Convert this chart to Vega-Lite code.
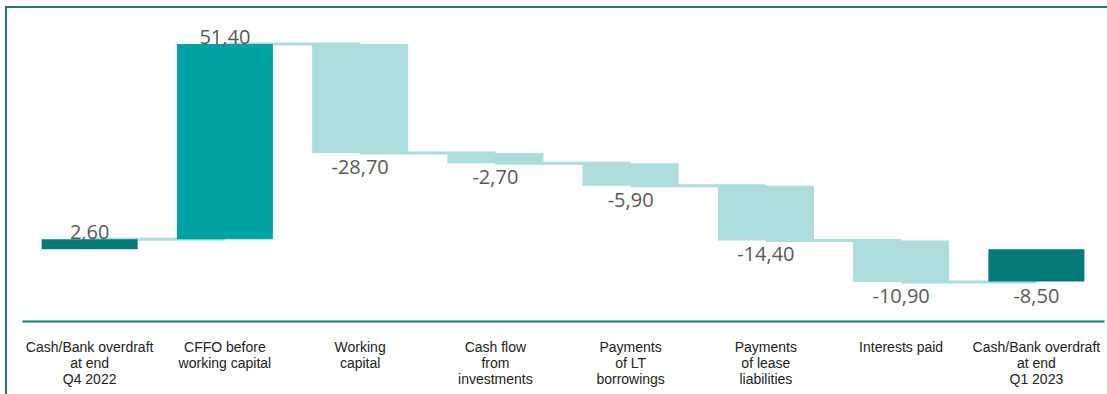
{
  "$schema": "https://vega.github.io/schema/vega-lite/v6.json",
  "width": 1101,
  "height": 387,
  "autosize": {"type": "none"},
  "padding": {"left": 6, "top": 7, "right": 0, "bottom": 0},
  "background": "white",
  "config": {
    "view": {"stroke": "#1F7674", "strokeWidth": 2, "strokeDash": [1101, 1488, 387]},
    "locale": {"number": {"decimal": ",", "thousands": ".", "grouping": [3], "currency": ["", " €"], "minus": "-"}}
  },
  "data": {
    "values": [
      {"step": "Cash/Bank overdraft\nat end\nQ4 2022", "start": 0, "end": 2.6, "value": 2.6, "kind": "total", "next": "CFFO before\nworking capital"},
      {"step": "CFFO before\nworking capital", "start": 2.6, "end": 54.0, "value": 51.4, "kind": "increase", "next": "Working\ncapital"},
      {"step": "Working\ncapital", "start": 54.0, "end": 25.3, "value": -28.7, "kind": "decrease", "next": "Cash flow\nfrom\ninvestments"},
      {"step": "Cash flow\nfrom\ninvestments", "start": 25.3, "end": 22.6, "value": -2.7, "kind": "decrease", "next": "Payments\nof LT\nborrowings"},
      {"step": "Payments\nof LT\nborrowings", "start": 22.6, "end": 16.7, "value": -5.9, "kind": "decrease", "next": "Payments\nof lease\nliabilities"},
      {"step": "Payments\nof lease\nliabilities", "start": 16.7, "end": 2.3, "value": -14.4, "kind": "decrease", "next": "Interests paid"},
      {"step": "Interests paid", "start": 2.3, "end": -8.6, "value": -10.9, "kind": "decrease", "next": "Cash/Bank overdraft\nat end\nQ1 2023"},
      {"step": "Cash/Bank overdraft\nat end\nQ1 2023", "start": 0, "end": -8.5, "value": -8.5, "kind": "total", "next": null}
    ]
  },
  "encoding": {
    "x": {
      "field": "step",
      "type": "nominal",
      "sort": null,
      "scale": {"range": [16, 1098], "paddingInner": 0.29, "paddingOuter": 0.145},
      "axis": {
        "title": null,
        "ticks": false,
        "tickSize": 0,
        "grid": false,
        "domainColor": "#1F7674",
        "domainWidth": 2,
        "labelFont": "Liberation Sans",
        "labelFontSize": 14,
        "labelColor": "#222222",
        "labelPadding": 19,
        "labelLineHeight": 16,
        "labelAngle": 0,
        "labelAlign": "center",
        "labelBaseline": "top",
        "labelLimit": 0,
        "labelOverlap": false,
        "offset": -73,
        "labelExpr": "split(datum.label, '\\n')"
      }
    }
  },
  "layer": [
    {
      "transform": [{"filter": "datum.next != null"}],
      "mark": {"type": "rule", "color": "#ADDCDC", "strokeWidth": 3},
      "encoding": {
        "x2": {"field": "next"},
        "y": {"field": "end", "type": "quantitative", "scale": {"domain": [-20, 60], "range": [318.2, 14.2], "nice": false, "zero": false}, "axis": null}
      }
    },
    {
      "mark": {"type": "bar"},
      "encoding": {
        "y": {"field": "start", "type": "quantitative", "scale": {"domain": [-20, 60], "range": [318.2, 14.2], "nice": false, "zero": false}, "axis": null},
        "y2": {"field": "end"},
        "color": {"field": "kind", "type": "nominal", "scale": {"domain": ["total", "increase", "decrease"], "range": ["#037A78", "#00A3A3", "#ADDCDC"]}, "legend": null}
      }
    },
    {
      "transform": [{"filter": "datum.value > 0"}],
      "mark": {"type": "text", "baseline": "alphabetic", "align": "center", "dy": 0, "font": "Open Sans", "fontSize": 20, "color": "#595959"},
      "encoding": {
        "y": {"field": "end", "type": "quantitative", "scale": {"domain": [-20, 60], "range": [318.2, 14.2], "nice": false, "zero": false}, "axis": null},
        "text": {"field": "value", "type": "quantitative", "format": ".2f"}
      }
    },
    {
      "transform": [{"filter": "datum.value < 0"}],
      "mark": {"type": "text", "baseline": "alphabetic", "align": "center", "dy": 21, "font": "Open Sans", "fontSize": 20, "color": "#595959"},
      "encoding": {
        "y": {"field": "end", "type": "quantitative", "scale": {"domain": [-20, 60], "range": [318.2, 14.2], "nice": false, "zero": false}, "axis": null},
        "text": {"field": "value", "type": "quantitative", "format": ".2f"}
      }
    }
  ]
}
